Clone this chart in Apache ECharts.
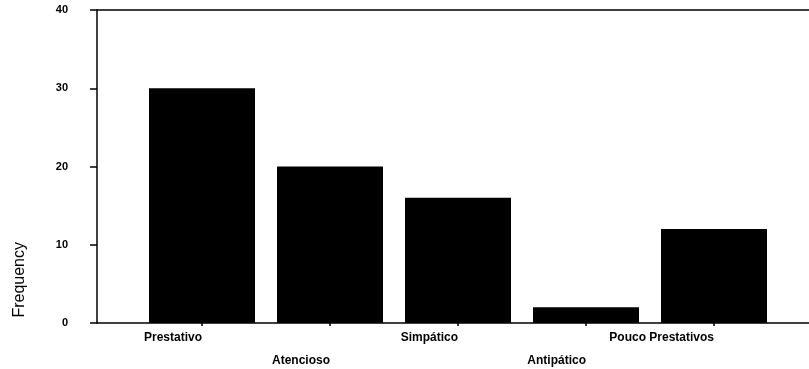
<!DOCTYPE html>
<html>
<head>
<meta charset="utf-8">
<script src="https://cdn.jsdelivr.net/npm/echarts@6/dist/echarts.min.js"></script>
<style>html,body{margin:0;padding:0;background:#fff}#c{width:809px;height:369px}</style>
</head>
<body>
<div id="c"></div>
<script>
var categories = ['Prestativo', 'Atencioso', 'Simpático', 'Antipático', 'Pouco Prestativos'];
var frequency = [30, 20, 16, 2, 12];
var yTicks = [0, 10, 20, 30, 40];

var chart = echarts.init(document.getElementById('c'), null, {renderer: 'canvas'});
var fontFam = '"Liberation Sans", Arial, sans-serif';
chart.setOption({
  animation: false,
  backgroundColor: '#fff',
  grid: [
    {left: 138, right: 31, top: 10, bottom: 46, containLabel: false, outerBoundsMode: 'none'},
    {left: 97, right: 0, top: 10, bottom: 46, containLabel: false, outerBoundsMode: 'none'}
  ],
  xAxis: [
    {
      type: 'category', gridIndex: 0, data: categories,
      axisLine: {show: false},
      axisTick: {show: true, alignWithLabel: true, length: 3, lineStyle: {color: '#000', width: 1.5}},
      axisLabel: {
        interval: 0, align: 'right', verticalAlign: 'top', margin: 3,
        color: '#000', fontFamily: fontFam, fontWeight: 'bold', fontSize: 12, lineHeight: 23,
        formatter: function (v, i) { return (i % 2 === 1 ? '\n' : '') + v; }
      },
      splitLine: {show: false}
    },
    {
      type: 'value', gridIndex: 1, position: 'bottom', min: 0, max: 1,
      axisLine: {show: true, lineStyle: {color: '#000', width: 1.5}},
      axisTick: {show: false}, axisLabel: {show: false}, splitLine: {show: false}
    },
    {
      type: 'value', gridIndex: 1, position: 'top', min: 0, max: 1,
      axisLine: {show: true, lineStyle: {color: '#000', width: 1.5}},
      axisTick: {show: false}, axisLabel: {show: false}, splitLine: {show: false}
    }
  ],
  yAxis: [
    {
      type: 'value', gridIndex: 0, min: yTicks[0], max: yTicks[yTicks.length - 1], interval: 10,
      offset: 41,
      axisLine: {show: true, lineStyle: {color: '#000', width: 1.5}},
      axisTick: {show: true, length: 7, lineStyle: {color: '#000', width: 1.5}},
      axisLabel: {margin: 29, color: '#000', fontFamily: fontFam, fontWeight: 'bold', fontSize: 11},
      splitLine: {show: false}
    },
    {
      type: 'value', gridIndex: 1, min: 0, max: 1, show: false
    }
  ],
  graphic: [
    {
      type: 'text', left: 12, top: 242, rotation: Math.PI / 2,
      style: {text: 'Frequency', fill: '#000', font: '16px ' + fontFam}
    }
  ],
  series: [
    {
      type: 'bar', xAxisIndex: 0, yAxisIndex: 0, data: frequency,
      barWidth: 106, itemStyle: {color: '#000'}
    }
  ]
});
</script>
</body>
</html>
